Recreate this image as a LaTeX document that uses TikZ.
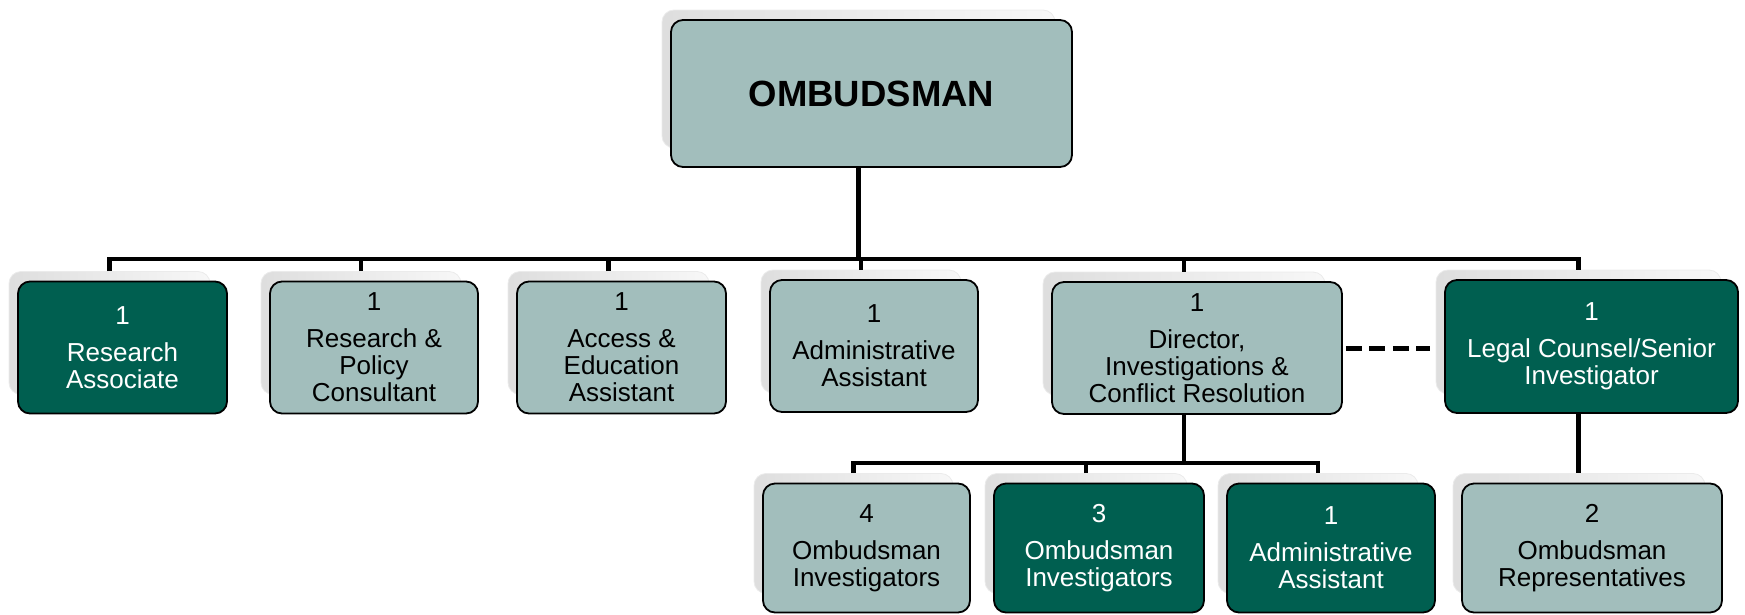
\documentclass[tikz,border=0pt]{standalone}
\usepackage{fontspec}
\setmainfont{Liberation Sans}
\definecolor{lightbox}{HTML}{A2BEBC}
\definecolor{darkbox}{HTML}{005F50}
\tikzset{
  box/.style={draw=black, line width=1.8pt, rounded corners=12pt, align=center,
    inner sep=0pt, font=\fontsize{26}{27}\selectfont},
  lightb/.style={box, fill=lightbox, text=black},
  darkb/.style={box, fill=darkbox, text=white},
  shad/.style={rounded corners=12pt, left color=black!13, right color=black!3,
    draw=black!8, line width=0.8pt, inner sep=0pt},
  conn/.style={line width=4.8pt, draw=black},
  dashconn/.style={line width=5pt, draw=black, dash pattern=on 16pt off 7.5pt}
}
% #1 name, #2 cx, #3 cy, #4 width, #5 height, #6 style, #7 text
\newcommand\orgbox[7]{%
  \node[shad, minimum width={#4pt-8pt}, minimum height={#5pt-9pt}] (#1s) at (#2-13,#3-14.5) {};
  \node[#6, minimum width=#4pt, minimum height=#5pt] (#1) at (#2,#3) {#7};
}
\begin{document}
\begin{tikzpicture}[x=1pt,y=-1pt]
\useasboundingbox (0,0) rectangle (1745,614);
% top
\orgbox{omb}{871.5}{93.5}{401}{147}{lightb}{\fontsize{36.5}{40}\bfseries OMBUDSMAN}
% row 1
\orgbox{ra}{122.5}{347.5}{209}{132}{darkb}{1\\[10pt]Research\\Associate}
\orgbox{rpc}{374}{347.5}{208}{132}{lightb}{1\\[10pt]Research \&\\Policy\\Consultant}
\orgbox{aea}{621.5}{347.5}{209}{132}{lightb}{1\\[10pt]Access \&\\Education\\Assistant}
\orgbox{aa}{874}{346}{208}{132}{lightb}{1\\[10pt]Administrative\\Assistant}
\orgbox{dir}{1197}{348}{290}{132}{lightb}{1\\[10pt]Director,\\Investigations \&\\Conflict Resolution}
\orgbox{leg}{1591.5}{346.5}{293}{133}{darkb}{1\\[10pt]Legal Counsel/Senior\\Investigator}
% row 2
\orgbox{oia}{866.5}{548}{207}{129}{lightb}{4\\[10pt]Ombudsman\\Investigators}
\orgbox{oib}{1099}{548}{210}{129}{darkb}{3\\[10pt]Ombudsman\\Investigators}
\orgbox{ast}{1331}{548}{208}{129}{darkb}{1\\[10pt]Administrative\\Assistant}
\orgbox{rep}{1592}{548}{260}{129}{lightb}{2\\[10pt]Ombudsman\\Representatives}
% connectors
\coordinate (bus) at (0,259);
\coordinate (bus2) at (0,463);
\draw[conn] (ombs.center |- omb.south) -- (ombs.center |- bus);
\draw[conn] (ras.north) -- (ras.north |- bus) -- (legs.north |- bus) -- (legs.north);
\draw[conn] (rpcs.north) -- (rpcs.north |- bus);
\draw[conn] (aeas.north) -- (aeas.north |- bus);
\draw[conn] (aas.north) -- (aas.north |- bus);
\draw[conn] (dirs.north) -- (dirs.north |- bus);
\draw[conn] (dirs.center |- dir.south) -- (dirs.center |- bus2);
\draw[conn] (oias.north) -- (oias.north |- bus2) -- (asts.north |- bus2) -- (asts.north);
\draw[conn] (oibs.north) -- (oibs.north |- bus2);
\draw[conn] (legs.center |- leg.south) -- (legs.center |- reps.north);
\draw[dashconn, shorten <=3pt, shorten >=14pt] (dir.east) -- (dir.east -| leg.west);
\end{tikzpicture}
\end{document}
